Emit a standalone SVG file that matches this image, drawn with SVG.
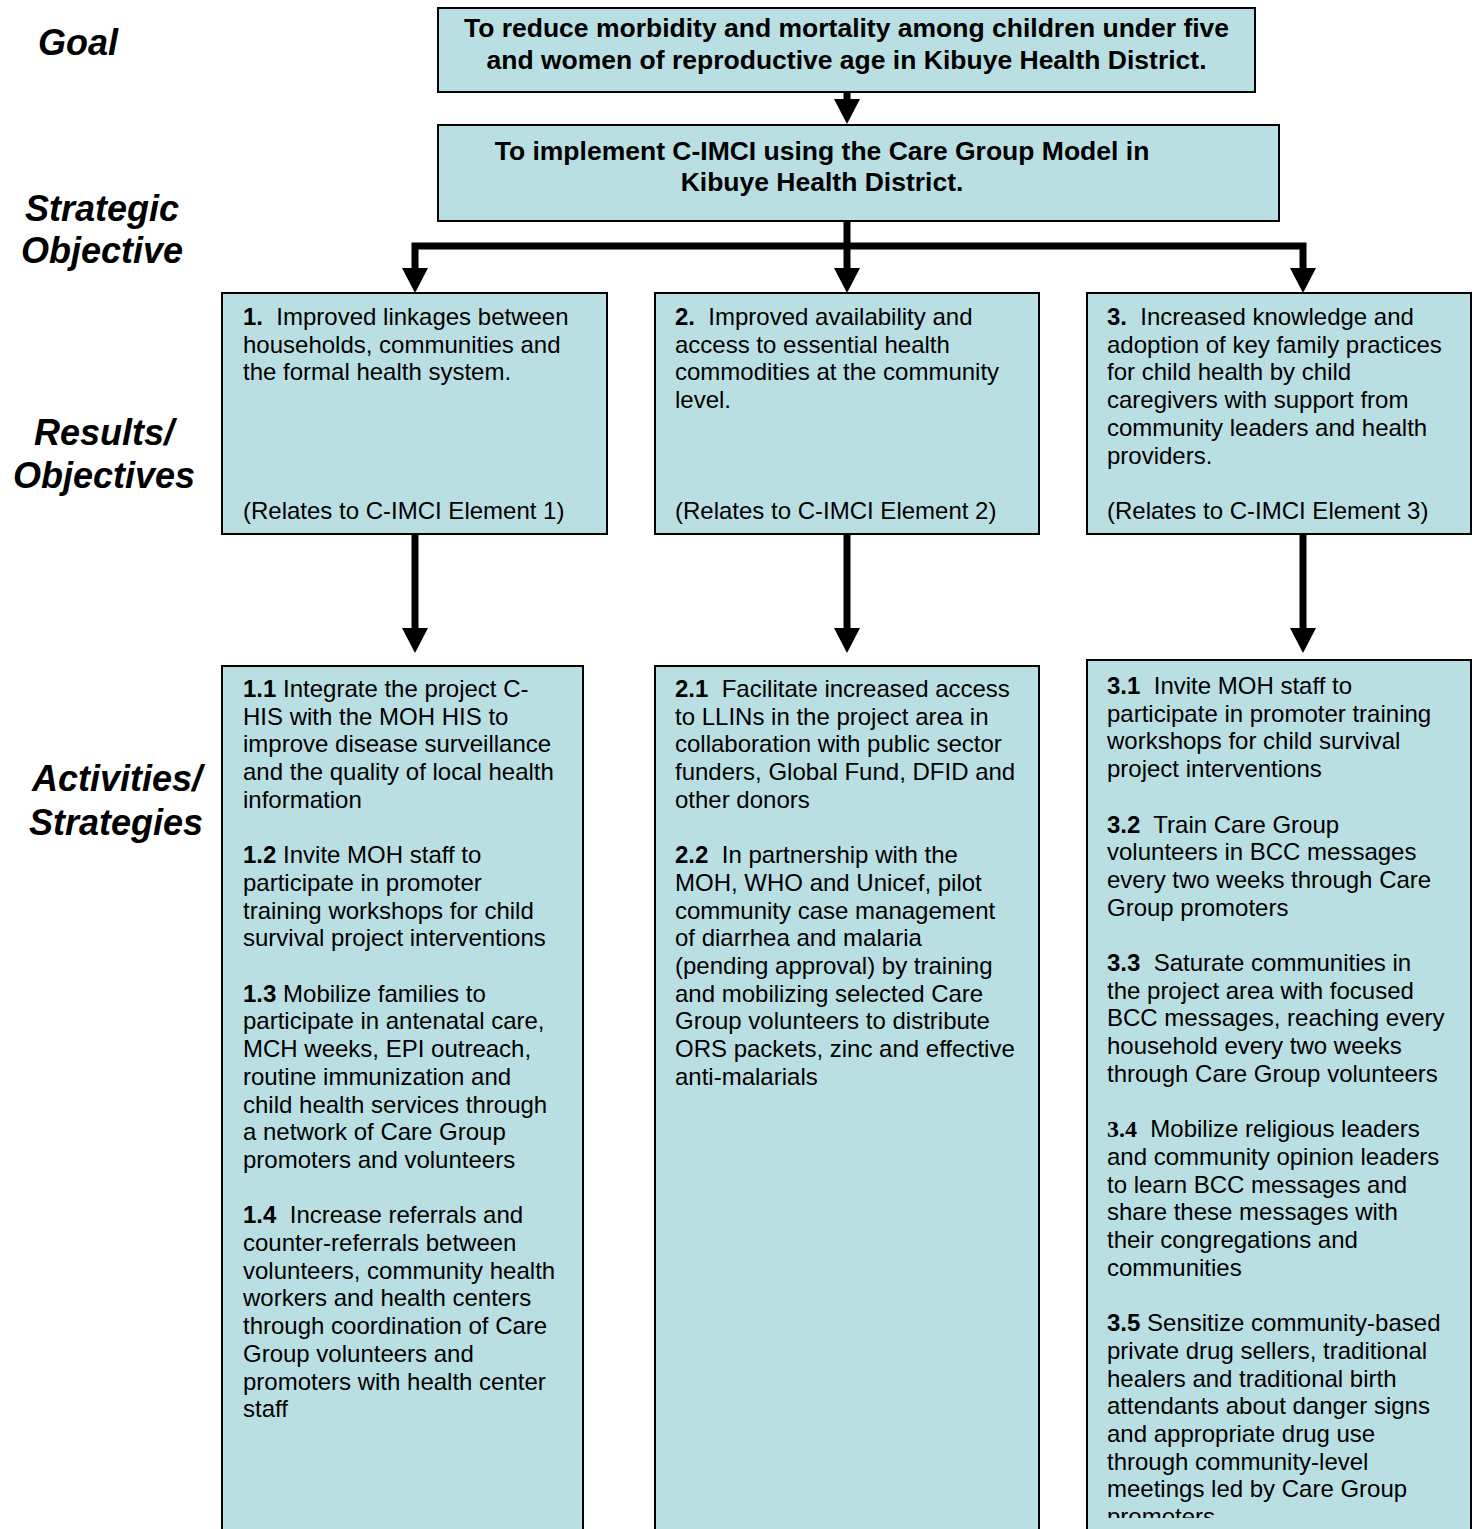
<svg xmlns="http://www.w3.org/2000/svg" width="1472" height="1529" viewBox="0 0 1472 1529">
  <style>
    .box { fill: #badfe2; stroke: #000; stroke-width: 2; }
    .hdr { font-family: "Liberation Sans", Arial, sans-serif; font-size: 26.5px; font-weight: bold; fill: #000; text-anchor: middle; }
    .lvl { font-family: "Liberation Sans", Arial, sans-serif; font-size: 36px; font-weight: bold; font-style: italic; fill: #000; }
    .body { font-family: "Liberation Sans", Arial, sans-serif; font-size: 24px; fill: #000; }
    .num { font-weight: bold; }
    .serifnum { font-family: "Liberation Serif", "Times New Roman", serif; font-weight: bold; }
    .conn { fill: none; stroke: #000; stroke-width: 7; stroke-linejoin: miter; stroke-linecap: butt; }
  </style>
  <defs>
    <marker id="head" viewBox="0 -13 25 26" refX="0" refY="0" markerWidth="25" markerHeight="26" markerUnits="userSpaceOnUse" orient="auto-start-reverse">
      <path d="M0,-13 L25,0 L0,13 Z" fill="#000"/>
    </marker>
    <clipPath id="clip-a3">
      <rect x="1087" y="660" width="386" height="858"/>
    </clipPath>
  </defs>

  <rect width="1472" height="1529" fill="#fff"/>

  <!-- level labels down the left margin -->
  <g id="level-labels" class="lvl">
    <text x="38" y="55">Goal</text>
    <text x="102" y="221" text-anchor="middle">Strategic</text>
    <text x="102" y="263" text-anchor="middle">Objective</text>
    <text x="104" y="445" text-anchor="middle">Results/</text>
    <text x="104" y="488" text-anchor="middle">Objectives</text>
    <text x="117" y="791" text-anchor="middle">Activities/</text>
    <text x="116" y="835" text-anchor="middle">Strategies</text>
  </g>

  <!-- connectors -->
  <g id="connectors">
    <path class="conn" d="M847,92 V99" marker-end="url(#head)"/>
    <path class="conn" d="M847,221 V268" marker-end="url(#head)"/>
    <path class="conn" d="M415,268 V246 H1303 V268" marker-start="url(#head)" marker-end="url(#head)"/>
    <path class="conn" d="M415,534 V628" marker-end="url(#head)"/>
    <path class="conn" d="M847,534 V628" marker-end="url(#head)"/>
    <path class="conn" d="M1303,534 V628" marker-end="url(#head)"/>
  </g>

  <g id="goal">
    <rect class="box" x="438" y="8" width="817" height="84"/>
    <text class="hdr" x="846.5" y="37">To reduce morbidity and mortality among children under five</text>
    <text class="hdr" x="846.5" y="69">and women of reproductive age in Kibuye Health District.</text>
  </g>

  <g id="strategic-objective">
    <rect class="box" x="438" y="125" width="841" height="96"/>
    <text class="hdr" x="822" y="160">To implement C-IMCI using the Care Group Model in</text>
    <text class="hdr" x="822" y="191">Kibuye Health District.</text>
  </g>

  <g id="result-1">
    <rect class="box" x="222" y="293" width="385" height="241"/>
    <text class="body" y="325">
      <tspan x="243"><tspan class="num">1.</tspan>&#160; Improved linkages between</tspan>
      <tspan x="243" dy="27.7">households, communities and</tspan>
      <tspan x="243" dy="27.7">the formal health system.</tspan>
      <tspan x="243" y="519">(Relates to C-IMCI Element 1)</tspan>
    </text>
  </g>

  <g id="result-2">
    <rect class="box" x="655" y="293" width="384" height="241"/>
    <text class="body" y="325">
      <tspan x="675"><tspan class="num">2.</tspan>&#160; Improved availability and</tspan>
      <tspan x="675" dy="27.7">access to essential health</tspan>
      <tspan x="675" dy="27.7">commodities at the community</tspan>
      <tspan x="675" dy="27.7">level.</tspan>
      <tspan x="675" y="519">(Relates to C-IMCI Element 2)</tspan>
    </text>
  </g>

  <g id="result-3">
    <rect class="box" x="1087" y="293" width="384" height="241"/>
    <text class="body" y="325">
      <tspan x="1107"><tspan class="num">3.</tspan>&#160; Increased knowledge and</tspan>
      <tspan x="1107" dy="27.7">adoption of key family practices</tspan>
      <tspan x="1107" dy="27.7">for child health by child</tspan>
      <tspan x="1107" dy="27.7">caregivers with support from</tspan>
      <tspan x="1107" dy="27.7">community leaders and health</tspan>
      <tspan x="1107" dy="27.7">providers.</tspan>
      <tspan x="1107" y="519">(Relates to C-IMCI Element 3)</tspan>
    </text>
  </g>

  <g id="activities-1">
    <rect class="box" x="222" y="666" width="361" height="880"/>
    <text class="body" y="697">
      <tspan x="243"><tspan class="num">1.1</tspan> Integrate the project C-</tspan>
      <tspan x="243" dy="27.7">HIS with the MOH HIS to</tspan>
      <tspan x="243" dy="27.7">improve disease surveillance</tspan>
      <tspan x="243" dy="27.7">and the quality of local health</tspan>
      <tspan x="243" dy="27.7">information</tspan>
      <tspan x="243" dy="55.4"><tspan class="num">1.2</tspan> Invite MOH staff to</tspan>
      <tspan x="243" dy="27.7">participate in promoter</tspan>
      <tspan x="243" dy="27.7">training workshops for child</tspan>
      <tspan x="243" dy="27.7">survival project interventions</tspan>
      <tspan x="243" dy="55.4"><tspan class="num">1.3</tspan> Mobilize families to</tspan>
      <tspan x="243" dy="27.7">participate in antenatal care,</tspan>
      <tspan x="243" dy="27.7">MCH weeks, EPI outreach,</tspan>
      <tspan x="243" dy="27.7">routine immunization and</tspan>
      <tspan x="243" dy="27.7">child health services through</tspan>
      <tspan x="243" dy="27.7">a network of Care Group</tspan>
      <tspan x="243" dy="27.7">promoters and volunteers</tspan>
      <tspan x="243" dy="55.4"><tspan class="num">1.4</tspan>&#160; Increase referrals and</tspan>
      <tspan x="243" dy="27.7">counter-referrals between</tspan>
      <tspan x="243" dy="27.7">volunteers, community health</tspan>
      <tspan x="243" dy="27.7">workers and health centers</tspan>
      <tspan x="243" dy="27.7">through coordination of Care</tspan>
      <tspan x="243" dy="27.7">Group volunteers and</tspan>
      <tspan x="243" dy="27.7">promoters with health center</tspan>
      <tspan x="243" dy="27.7">staff</tspan>
    </text>
  </g>

  <g id="activities-2">
    <rect class="box" x="655" y="666" width="384" height="880"/>
    <text class="body" y="697">
      <tspan x="675"><tspan class="num">2.1</tspan>&#160; Facilitate increased access</tspan>
      <tspan x="675" dy="27.7">to LLINs in the project area in</tspan>
      <tspan x="675" dy="27.7">collaboration with public sector</tspan>
      <tspan x="675" dy="27.7">funders, Global Fund, DFID and</tspan>
      <tspan x="675" dy="27.7">other donors</tspan>
      <tspan x="675" dy="55.4"><tspan class="num">2.2</tspan>&#160; In partnership with the</tspan>
      <tspan x="675" dy="27.7">MOH, WHO and Unicef, pilot</tspan>
      <tspan x="675" dy="27.7">community case management</tspan>
      <tspan x="675" dy="27.7">of diarrhea and malaria</tspan>
      <tspan x="675" dy="27.7">(pending approval) by training</tspan>
      <tspan x="675" dy="27.7">and mobilizing selected Care</tspan>
      <tspan x="675" dy="27.7">Group volunteers to distribute</tspan>
      <tspan x="675" dy="27.7">ORS packets, zinc and effective</tspan>
      <tspan x="675" dy="27.7">anti-malarials</tspan>
    </text>
  </g>

  <g id="activities-3">
    <rect class="box" x="1087" y="660" width="384" height="886"/>
    <text class="body" y="694" clip-path="url(#clip-a3)">
      <tspan x="1107"><tspan class="num">3.1</tspan>&#160; Invite MOH staff to</tspan>
      <tspan x="1107" dy="27.7">participate in promoter training</tspan>
      <tspan x="1107" dy="27.7">workshops for child survival</tspan>
      <tspan x="1107" dy="27.7">project interventions</tspan>
      <tspan x="1107" dy="55.4"><tspan class="num">3.2</tspan>&#160; Train Care Group</tspan>
      <tspan x="1107" dy="27.7">volunteers in BCC messages</tspan>
      <tspan x="1107" dy="27.7">every two weeks through Care</tspan>
      <tspan x="1107" dy="27.7">Group promoters</tspan>
      <tspan x="1107" dy="55.4"><tspan class="num">3.3</tspan>&#160; Saturate communities in</tspan>
      <tspan x="1107" dy="27.7">the project area with focused</tspan>
      <tspan x="1107" dy="27.7">BCC messages, reaching every</tspan>
      <tspan x="1107" dy="27.7">household every two weeks</tspan>
      <tspan x="1107" dy="27.7">through Care Group volunteers</tspan>
      <tspan x="1107" dy="55.4"><tspan class="serifnum">3.4</tspan>&#160; Mobilize religious leaders</tspan>
      <tspan x="1107" dy="27.7">and community opinion leaders</tspan>
      <tspan x="1107" dy="27.7">to learn BCC messages and</tspan>
      <tspan x="1107" dy="27.7">share these messages with</tspan>
      <tspan x="1107" dy="27.7">their congregations and</tspan>
      <tspan x="1107" dy="27.7">communities</tspan>
      <tspan x="1107" dy="55.4"><tspan class="num">3.5</tspan> Sensitize community-based</tspan>
      <tspan x="1107" dy="27.7">private drug sellers, traditional</tspan>
      <tspan x="1107" dy="27.7">healers and traditional birth</tspan>
      <tspan x="1107" dy="27.7">attendants about danger signs</tspan>
      <tspan x="1107" dy="27.7">and appropriate drug use</tspan>
      <tspan x="1107" dy="27.7">through community-level</tspan>
      <tspan x="1107" dy="27.7">meetings led by Care Group</tspan>
      <tspan x="1107" dy="27.7">promoters</tspan>
    </text>
  </g>
</svg>
